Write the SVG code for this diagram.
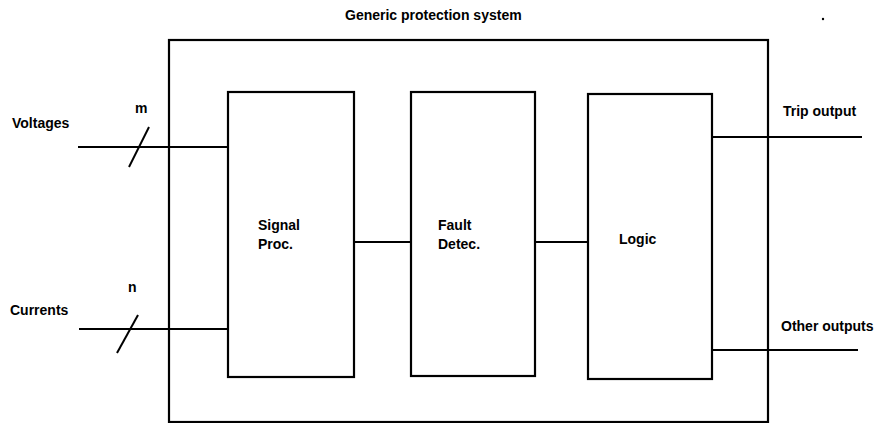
<svg xmlns="http://www.w3.org/2000/svg" width="879" height="423" viewBox="0 0 879 423">
<style>
.box{fill:none;stroke:#000;stroke-width:2.2}
.ln{fill:none;stroke:#000;stroke-width:2}
text{font-family:"Liberation Sans",Arial,sans-serif;font-size:14px;font-weight:bold;fill:#000}
</style>
<rect width="879" height="423" fill="#fff"/>
<g id="system">
<rect class="box" x="169" y="40" width="599" height="382"/>
<text x="345" y="20">Generic protection system</text>
</g>
<g id="signal-proc">
<rect class="box" x="228" y="92" width="126" height="285"/>
<text x="258" y="230">Signal</text>
<text x="258" y="249">Proc.</text>
</g>
<g id="fault-detec">
<rect class="box" x="411" y="92" width="124" height="284"/>
<text x="438" y="230">Fault</text>
<text x="438" y="249">Detec.</text>
</g>
<g id="logic">
<rect class="box" x="588" y="94" width="124" height="285"/>
<text x="619" y="244">Logic</text>
</g>
<g id="connectors">
<line class="ln" x1="78" y1="147" x2="228" y2="147"/>
<line class="ln" x1="129" y1="167" x2="149" y2="127"/>
<line class="ln" x1="79" y1="329" x2="228" y2="329"/>
<line class="ln" x1="117" y1="353" x2="138" y2="315"/>
<line class="ln" x1="354" y1="242" x2="411" y2="242"/>
<line class="ln" x1="535" y1="242" x2="588" y2="242"/>
<line class="ln" x1="712" y1="137" x2="862" y2="137"/>
<line class="ln" x1="712" y1="350" x2="858" y2="350"/>
</g>
<g id="labels">
<text x="12" y="128">Voltages</text>
<text x="135" y="113">m</text>
<text x="10" y="315">Currents</text>
<text x="128" y="292">n</text>
<text x="783" y="116">Trip output</text>
<text x="781" y="331">Other outputs</text>
</g>
<circle cx="823" cy="19" r="1.2" fill="#000"/>
</svg>
